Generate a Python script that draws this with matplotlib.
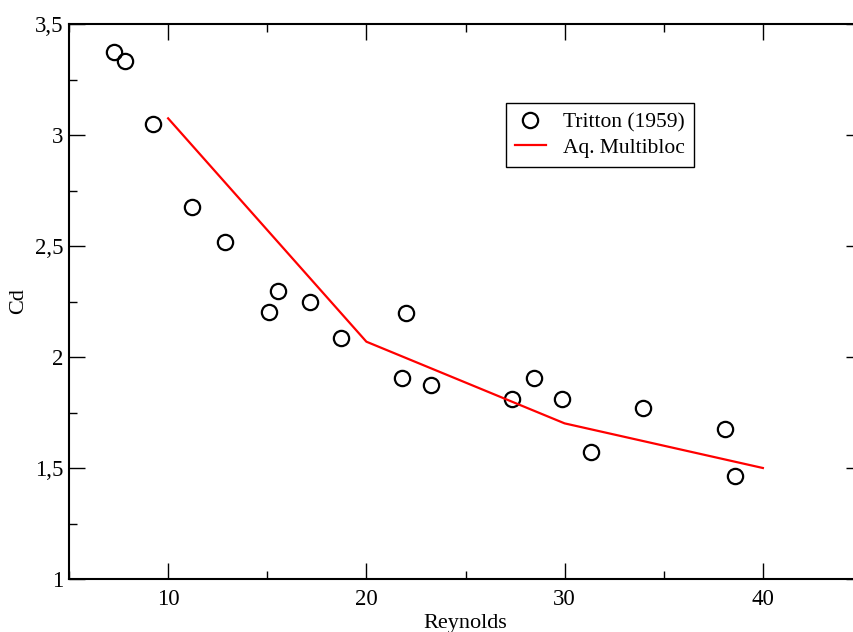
import matplotlib
matplotlib.use("Agg")
import matplotlib.pyplot as plt
from matplotlib.ticker import MultipleLocator, FuncFormatter

# Tritton (1959) experimental drag coefficients
tritton_re = [7.27, 7.83, 9.24, 11.21, 12.89, 15.55, 15.11, 17.17, 18.73,
              22.00, 21.80, 23.28, 27.37, 28.48, 29.87, 31.34, 33.94, 38.08, 38.59]
tritton_cd = [3.373, 3.335, 3.048, 2.677, 2.517, 2.296, 2.201, 2.248, 2.086,
              2.200, 1.907, 1.875, 1.811, 1.905, 1.810, 1.571, 1.772, 1.674, 1.464]

# Aquilon multiblock simulation results
sim_re = [10, 20, 30, 40]
sim_cd = [3.075, 2.069, 1.701, 1.500]

plt.rcParams['font.family'] = ['Liberation Serif', 'DejaVu Serif']
FS_TICK = 16.5
FS_LABEL = 16
FS_LEG = 15.5

fig = plt.figure(figsize=(8.54, 6.32), dpi=100)
ax = fig.add_axes([69 / 854, 53 / 632, 793 / 854, 555 / 632])

ax.plot(tritton_re, tritton_cd, linestyle='none', marker='o', markersize=11,
        markerfacecolor='none', markeredgecolor='black', markeredgewidth=1.6,
        label='Tritton (1959)')
ax.plot(sim_re, sim_cd, color='red', linewidth=1.6, label='Aq. Multibloc')

ax.set_xlim(5, 45)
ax.set_ylim(1, 3.5)
ax.xaxis.set_major_locator(MultipleLocator(10))
ax.xaxis.set_minor_locator(MultipleLocator(5))
ax.yaxis.set_major_locator(MultipleLocator(0.5))
ax.yaxis.set_minor_locator(MultipleLocator(0.25))


def comma_fmt(v, pos):
    s = ('%g' % v)
    return s.replace('.', ',')


ax.xaxis.set_major_formatter(FuncFormatter(comma_fmt))
ax.yaxis.set_major_formatter(FuncFormatter(comma_fmt))

ax.tick_params(which='both', direction='in', top=True, right=True,
               width=1.0, labelsize=FS_TICK)
ax.tick_params(axis='x', which='major', pad=7)
ax.tick_params(axis='y', which='major', pad=4)
ax.tick_params(which='major', length=11.5)
ax.tick_params(which='minor', length=5.8)
for sp in ax.spines.values():
    sp.set_linewidth(1.5)

ax.set_xlabel('Reynolds', fontsize=FS_LABEL, labelpad=3)
ax.set_ylabel('Cd', fontsize=FS_LABEL, labelpad=5)

leg = ax.legend(loc='upper left', bbox_to_anchor=(505.7 / 854, 1 - 103.3 / 632),
                bbox_transform=fig.transFigure, borderaxespad=0, fontsize=FS_LEG,
                numpoints=1, handlelength=1.45, handletextpad=0.8,
                borderpad=0.42, labelspacing=0.25, fancybox=False,
                framealpha=1, edgecolor='black')
leg.get_frame().set_linewidth(1.0)

fig.savefig('out.png', dpi=100)
